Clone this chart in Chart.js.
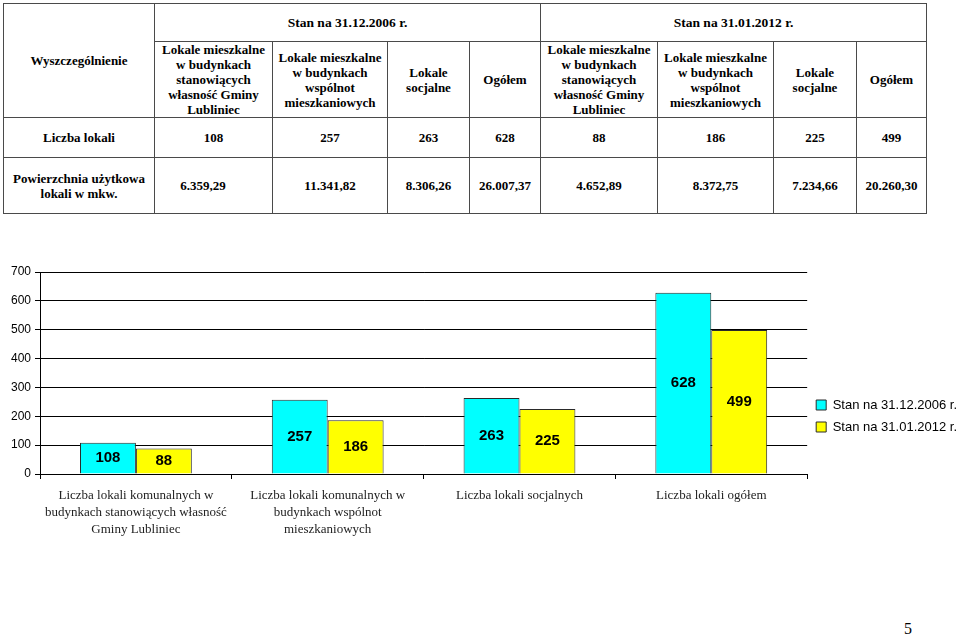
<!DOCTYPE html>
<html>
<head>
<meta charset="utf-8">
<script src="https://cdn.jsdelivr.net/npm/chart.js@4"></script>
<style>
  html, body { margin:0; padding:0; background:#fff; }
  body { width:960px; height:636px; overflow:hidden; position:relative; }
  table.t { position:absolute; left:3px; top:3px; border-collapse:collapse; table-layout:fixed;
    font-family:"Liberation Serif","Times New Roman",serif; font-weight:bold; font-size:13px; color:#000; }
  table.t td { border:1px solid #4a4a4a; text-align:center; vertical-align:middle; padding:0 5px; line-height:15px; }
  .hd { font-size:13.5px; }
  #wrap { position:absolute; left:0; top:240px; width:967px; height:320px; }
  .pg { position:absolute; left:904px; top:620px; font-family:"Liberation Serif",serif; font-size:16px; color:#000; }
</style>
</head>
<body>
<table class="t">
  <colgroup>
    <col style="width:151px"><col style="width:118px"><col style="width:115px"><col style="width:82px"><col style="width:71px">
    <col style="width:117px"><col style="width:116px"><col style="width:83px"><col style="width:70px">
  </colgroup>
  <tr style="height:38px">
    <td rowspan="2">Wyszczególnienie</td>
    <td colspan="4" class="hd">Stan na 31.12.2006 r.</td>
    <td colspan="4" class="hd">Stan na 31.01.2012 r.</td>
  </tr>
  <tr style="height:76px">
    <td>Lokale mieszkalne w budynkach stanowiących własność Gminy Lubliniec</td>
    <td>Lokale mieszkalne w budynkach wspólnot mieszkaniowych</td>
    <td>Lokale socjalne</td>
    <td>Ogółem</td>
    <td>Lokale mieszkalne w budynkach stanowiących własność Gminy Lubliniec</td>
    <td>Lokale mieszkalne w budynkach wspólnot mieszkaniowych</td>
    <td>Lokale socjalne</td>
    <td>Ogółem</td>
  </tr>
  <tr style="height:40px" id="rowCount"><td>Liczba lokali</td></tr>
  <tr style="height:56px" id="rowArea"><td>Powierzchnia użytkowa<br>lokali w mkw.</td></tr>
</table>
<div id="wrap"><canvas id="c" width="967" height="320"></canvas></div>
<div class="pg">5</div>
<script>
const categories = [
  ["Liczba lokali komunalnych w", "budynkach stanowiących własność", "Gminy Lubliniec"],
  ["Liczba lokali komunalnych w", "budynkach wspólnot", "mieszkaniowych"],
  "Liczba lokali socjalnych",
  "Liczba lokali ogółem"
];
const seriesNames = ["Stan na 31.12.2006 r.", "Stan na 31.01.2012 r."];
const values2006 = [108, 257, 263, 628];
const values2012 = [88, 186, 225, 499];
const area2006 = ["6.359,29", "11.341,82", "8.306,26", "26.007,37"];
const area2012 = ["4.652,89", "8.372,75", "7.234,66", "20.260,30"];
const yTicks = [0, 100, 200, 300, 400, 500, 600, 700];

// fill table rows from data
const rc = document.getElementById('rowCount');
values2006.concat(values2012).forEach(v => { const td = document.createElement('td'); td.textContent = v; rc.appendChild(td); });
const ra = document.getElementById('rowArea');
area2006.concat(area2012).forEach((v, i) => { const td = document.createElement('td'); td.textContent = v; if (i === 0) td.style.paddingRight = '26px'; ra.appendChild(td); });

const valueLabels = {
  id: 'valueLabels',
  afterDatasetsDraw(chart) {
    const ctx = chart.ctx;
    ctx.save();
    ctx.font = 'bold 15px "Liberation Sans", Arial, sans-serif';
    ctx.fillStyle = '#000';
    ctx.textAlign = 'center';
    ctx.textBaseline = 'middle';
    chart.data.datasets.forEach((ds, i) => {
      chart.getDatasetMeta(i).data.forEach((bar, j) => {
        ctx.fillText(String(ds.data[j]), bar.x, (bar.y + bar.base) / 2);
      });
    });
    ctx.restore();
  }
};

new Chart(document.getElementById('c'), {
  type: 'bar',
  data: {
    labels: categories,
    datasets: [
      { label: seriesNames[0], data: values2006, backgroundColor: '#00FFFF', borderColor: '#2a2a2a', borderWidth: 1,
        categoryPercentage: 0.583, barPercentage: 1.0 },
      { label: seriesNames[1], data: values2012, backgroundColor: '#FFFF00', borderColor: '#2a2a2a', borderWidth: 1,
        categoryPercentage: 0.583, barPercentage: 1.0 }
    ]
  },
  options: {
    responsive: false,
    animation: false,
    devicePixelRatio: 1,
    layout: { padding: { top: 32, left: 0, right: 0, bottom: 0 } },
    plugins: {
      legend: {
        position: 'right', align: 'center',
        labels: { boxWidth: 10, boxHeight: 10, padding: 9, color: '#000',
          font: { family: '"Liberation Sans", Arial, sans-serif', size: 13 } }
      },
      tooltip: { enabled: false }
    },
    scales: {
      x: {
        grid: { drawOnChartArea: false, drawTicks: true, tickLength: 5, color: '#000', offset: true },
        border: { color: '#000', width: 1 },
        ticks: { color: '#222', padding: 8, maxRotation: 0, autoSkip: false,
          font: { family: '"Liberation Serif", "Times New Roman", serif', size: 13, lineHeight: 1.3 } },
        afterFit(s) { s.height = 86; }
      },
      y: {
        min: 0, max: 700,
        afterBuildTicks(s) { s.ticks = yTicks.map(v => ({ value: v })); },
        grid: { color: '#000', lineWidth: 1, tickLength: 5 },
        border: { color: '#000', width: 1 },
        ticks: { color: '#000', padding: 4,
          font: { family: '"Liberation Sans", Arial, sans-serif', size: 12 } },
        afterFit(s) { s.width = 40; }
      }
    }
  },
  plugins: [valueLabels]
});
</script>
</body>
</html>
